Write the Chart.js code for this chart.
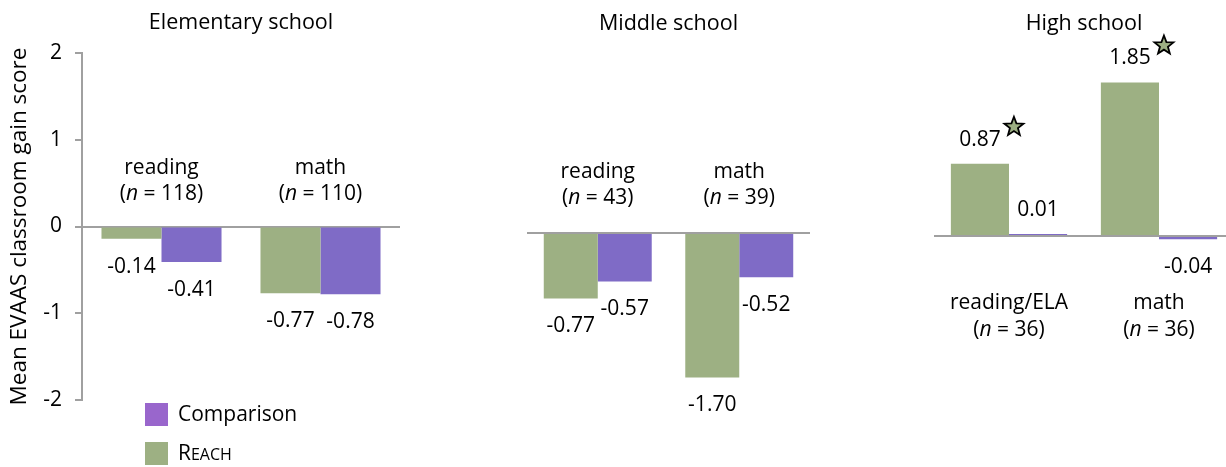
<!DOCTYPE html>
<html>
<head>
<meta charset="utf-8">
<script src="https://cdn.jsdelivr.net/npm/chart.js@4.4.1/dist/chart.umd.min.js"></script>
<style>
  html, body { margin: 0; padding: 0; background: #fff; overflow: hidden; width: 1226px; height: 467px; }
  .panel { position: absolute; top: 0; height: 467px; }
</style>
</head>
<body>
<div class="panel" style="left:0;width:410px"><canvas id="elemChart"></canvas></div>
<div class="panel" style="left:420px;width:400px"><canvas id="middleChart"></canvas></div>
<div class="panel" style="left:840px;width:410px"><canvas id="highChart"></canvas></div>
<script>
// ---- data ----
const seriesNames = ['REACH', 'Comparison'];
const panelTitles = ['Elementary school', 'Middle school', 'High school'];
const yAxisTitle = 'Mean EVAAS classroom gain score';
const yTicks = [-2, -1, 0, 1, 2];

const elemSubjects = ['reading', 'math'];
const elemN = [118, 110];
const elemReach = [-0.14, -0.77];
const elemComparison = [-0.41, -0.78];

const middleSubjects = ['reading', 'math'];
const middleN = [43, 39];
const middleReach = [-0.77, -1.70];
const middleComparison = [-0.57, -0.52];

const highSubjects = ['reading/ELA', 'math'];
const highN = [36, 36];
const highReach = [0.87, 1.85];
const highComparison = [0.01, -0.04];
const highReachStars = [true, true];

// ---- style ----
const FONT = 'Open Sans';
const green = '#9db083';
const purple = '#7f6bc6';
const legendPurple = '#9966cc';
const axisGray = '#a0a0a0';

Chart.defaults.font.family = FONT;
Chart.defaults.color = '#000';

function drawStar(ctx, cx, cy, rOut, rIn) {
  ctx.beginPath();
  for (let k = 0; k < 10; k++) {
    const r = k % 2 === 0 ? rOut : rIn;
    const a = -Math.PI / 2 + k * Math.PI / 5;
    const px = cx + r * Math.cos(a), py = cy + r * Math.sin(a);
    if (k === 0) ctx.moveTo(px, py); else ctx.lineTo(px, py);
  }
  ctx.closePath();
  ctx.fillStyle = green;
  ctx.fill();
  ctx.lineWidth = 1.8;
  ctx.strokeStyle = '#000';
  ctx.stroke();
}

function drawNLabel(ctx, n, cx, cy) {
  const parts = [['(', false], ['n', true], [' = ' + n + ')', false]];
  let total = 0;
  parts.forEach(p => {
    ctx.font = (p[1] ? 'italic ' : '') + '21px ' + FONT;
    total += ctx.measureText(p[0]).width;
  });
  let x = cx - total / 2;
  ctx.textAlign = 'left';
  parts.forEach(p => {
    ctx.font = (p[1] ? 'italic ' : '') + '21px ' + FONT;
    ctx.fillText(p[0], x, cy);
    x += ctx.measureText(p[0]).width;
  });
}

function panelPlugin(subjects, nValues, catOffsets, showLegend) {
  return {
    id: 'panelText',
    afterDatasetsDraw(chart) {
      const ctx = chart.ctx;
      const xs = chart.scales.x, ys = chart.scales.y;
      const zeroY = ys.getPixelForValue(0);
      ctx.save();
      ctx.fillStyle = '#000';
      ctx.textBaseline = 'middle';

      // value labels (+ stars)
      chart.data.datasets.forEach((ds, di) => {
        const meta = chart.getDatasetMeta(di);
        meta.data.forEach((bar, i) => {
          const v = ds.data[i];
          const ly = v < 0 ? bar.y + 28 : bar.y - 24;
          ctx.font = '21px ' + FONT;
          ctx.textAlign = 'center';
          ctx.fillStyle = '#000';
          ctx.fillText(v.toFixed(2), bar.x, ly);
          if (ds.stars && ds.stars[i]) {
            drawStar(ctx, bar.x + 34, ly - 13, 10, 4.2);
            ctx.fillStyle = '#000';
          }
        });
      });

      // category labels
      subjects.forEach((s, i) => {
        const cx = xs.getPixelForValue(i);
        ctx.font = '21px ' + FONT;
        ctx.textAlign = 'center';
        ctx.fillText(s, cx, zeroY + catOffsets[0]);
        drawNLabel(ctx, nValues[i], cx, zeroY + catOffsets[1]);
      });

      // legend (reverse order, stacked)
      if (showLegend) {
        const lx = chart.chartArea.left + 63;
        let ly = chart.chartArea.bottom + 3;
        chart.data.datasets.slice().reverse().forEach(ds => {
          ctx.fillStyle = ds.legendColor;
          ctx.fillRect(lx, ly, 23, 23);
          ctx.fillStyle = '#000';
          ctx.textAlign = 'left';
          const cy = ly + 12;
          if (ds.label === ds.label.toUpperCase()) {
            // small caps
            ctx.font = '21px ' + FONT;
            const first = ds.label[0];
            ctx.fillText(first, lx + 33, cy);
            const w = ctx.measureText(first).width;
            ctx.font = '16px ' + FONT;
            ctx.fillText(ds.label.slice(1), lx + 33 + w, cy + 1.5);
          } else {
            ctx.font = '21px ' + FONT;
            ctx.fillText(ds.label, lx + 33, cy);
          }
          ly += 39;
        });
      }
      ctx.restore();
    }
  };
}

function makeDatasets(reach, comparison, stars) {
  return [
    { label: seriesNames[0], data: reach, backgroundColor: green, legendColor: green, stars: stars, minBarLength: 2 },
    { label: seriesNames[1], data: comparison, backgroundColor: purple, legendColor: legendPurple, minBarLength: 2 }
  ];
}

const zeroOnlyGrid = ctx => (ctx.tick && ctx.tick.value === 0) ? axisGray : 'rgba(0,0,0,0)';

function baseOptions(title, titlePad, layoutPad, catPct, yScale) {
  return {
    responsive: true,
    maintainAspectRatio: false,
    animation: false,
    layout: { padding: layoutPad },
    categoryPercentage: catPct,
    barPercentage: 1,
    plugins: {
      legend: { display: false },
      tooltip: { enabled: false },
      title: {
        display: true, text: title, fullSize: false,
        font: { size: 21.5, weight: 'normal' }, color: '#000',
        padding: titlePad
      }
    },
    scales: {
      x: { display: false },
      y: yScale
    }
  };
}

// Elementary
new Chart(document.getElementById('elemChart'), {
  type: 'bar',
  data: { labels: elemSubjects, datasets: makeDatasets(elemReach, elemComparison, null) },
  options: baseOptions(panelTitles[0], { top: 10.1, bottom: 17.1 }, { left: 0, right: 10, top: 0, bottom: 67 }, 0.755, {
    min: -2, max: 2,
    afterBuildTicks: s => { s.ticks = yTicks.map(v => ({ value: v })); },
    ticks: { font: { size: 21 }, color: '#000', padding: 13 },
    grid: { color: zeroOnlyGrid, lineWidth: 2, drawTicks: true, tickLength: 7, tickColor: axisGray, tickWidth: 2 },
    border: { color: axisGray, width: 2 },
    title: { display: true, text: yAxisTitle, font: { size: 22.5 }, color: '#000', padding: { top: 6, bottom: 0 } },
    afterFit: s => { s.width = 82; }
  }),
  plugins: [panelPlugin(elemSubjects, elemN, [-58, -32], true)]
});

// Middle
new Chart(document.getElementById('middleChart'), {
  type: 'bar',
  data: { labels: middleSubjects, datasets: makeDatasets(middleReach, middleComparison, null) },
  options: baseOptions(panelTitles[1], { top: 11.1, bottom: 17.6 }, { left: 107, right: 10, top: 0, bottom: 64 }, 0.763, {
    min: -2, max: 2.1,
    ticks: { display: false },
    grid: { color: zeroOnlyGrid, lineWidth: 2, drawTicks: false },
    border: { display: false },
    afterFit: s => { s.width = 0; }
  }),
  plugins: [panelPlugin(middleSubjects, middleN, [-61, -35], false)]
});

// High
new Chart(document.getElementById('highChart'), {
  type: 'bar',
  data: { labels: highSubjects, datasets: makeDatasets(highReach, highComparison, highReachStars) },
  options: baseOptions(panelTitles[2], { top: 11.1, bottom: 16.5 }, { left: 94, right: 16, top: 0, bottom: 65 }, 0.775, {
    min: -2, max: 2.2,
    ticks: { display: false },
    grid: { color: zeroOnlyGrid, lineWidth: 2, drawTicks: false },
    border: { display: false },
    afterFit: s => { s.width = 0; }
  }),
  plugins: [panelPlugin(highSubjects, highN, [67, 94], false)]
});
</script>
</body>
</html>
